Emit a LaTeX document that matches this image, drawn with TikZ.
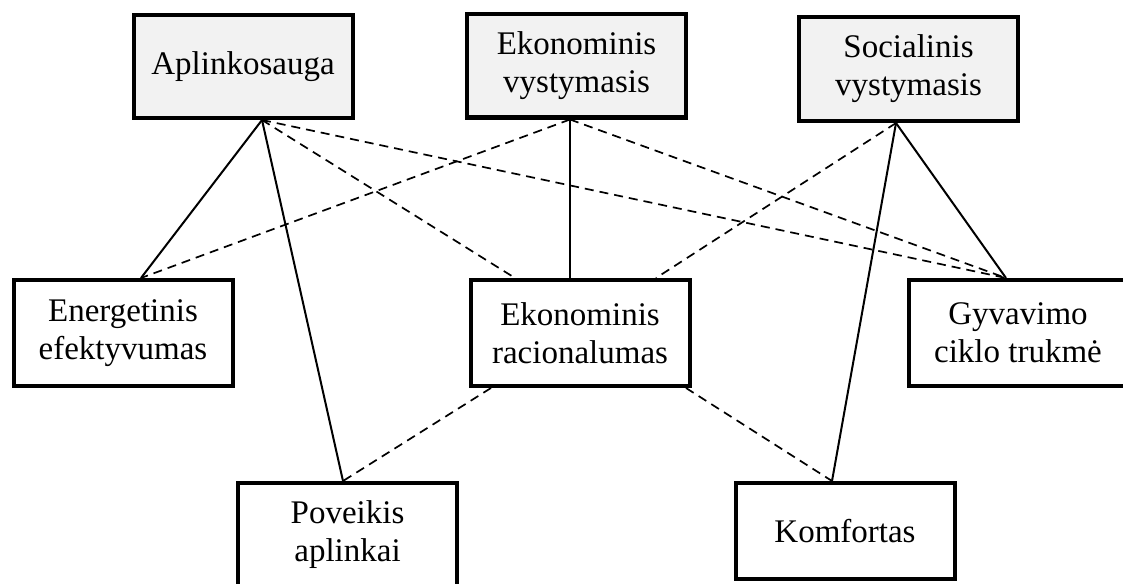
\documentclass[tikz,border=0pt]{standalone}
\usepackage{fontspec}
\setmainfont{Liberation Serif}
\usetikzlibrary{positioning}

\begin{document}
\begin{tikzpicture}[x=0.5pt, y=-0.5pt,
  critbox/.style={draw, line width=2pt, minimum width=109.5pt, minimum height=52pt,
                  align=center, font=\fontsize{16.5}{19}\selectfont},
  goalbox/.style={critbox, fill=black!5},
  link/.style={line width=1pt},
  dlink/.style={line width=0.85pt, dash pattern=on 4.5pt off 3pt}]
  \useasboundingbox (0,0) rectangle (1123,583);
  \clip (0,0) rectangle (1123,583);

  % tikslai
  \node[goalbox, minimum height=51.5pt] (aplink)  at (243,66.5)  {Aplinkosauga};
  \node[goalbox, minimum height=51.5pt] (ekvyst)  at (576.5,66)  {Ekonominis\\vystymasis};
  \node[goalbox, minimum height=52pt]   (socvyst) at (908.5,69)  {Socialinis\\vystymasis};
  % kriterijai
  \node[critbox, minimum height=53pt] (energ)  at (123,333)   {Energetinis\\efektyvumas};
  \node[critbox, minimum height=53pt] (ekrac)  at (580,333)   {Ekonominis\\racionalumas};
  \node[critbox, minimum height=53pt] (gyvav)  at (1018,333)  {Gyvavimo\\ciklo trukmė};
  \node[critbox]                      (poveik) at (347.5,535) {Poveikis\\aplinkai};
  \node[critbox, minimum height=48pt] (komf)   at (845,531)   {Komfortas};

  \draw[link] ([xshift=9.5pt]aplink.south) -- ([xshift=9pt]energ.north);
  \draw[link] ([xshift=9.5pt]aplink.south) -- ([xshift=-2.25pt]poveik.north);
  \draw[link] ([xshift=-3.25pt]ekvyst.south) -- ([xshift=-5pt]ekrac.north);
  \draw[link] ([xshift=-6.25pt]socvyst.south) -- ([xshift=-6pt]gyvav.north);
  \draw[link] ([xshift=-6.25pt]socvyst.south) -- ([xshift=-6.5pt]komf.north);

  \draw[dlink] ([xshift=9.5pt]aplink.south) -- ([xshift=-32.5pt]ekrac.north);
  \draw[dlink] ([xshift=9.5pt]aplink.south) -- ([xshift=-6pt]gyvav.north);
  \draw[dlink] ([xshift=-3.25pt]ekvyst.south) -- ([xshift=9pt]energ.north);
  \draw[dlink] ([xshift=-3.25pt]ekvyst.south) -- ([xshift=-6pt]gyvav.north);
  \draw[dlink] ([xshift=-6.25pt]socvyst.south) -- ([xshift=38pt]ekrac.north);
  \draw[dlink] ([xshift=-44.5pt]ekrac.south) -- ([xshift=-2.25pt]poveik.north);
  \draw[dlink] ([xshift=53pt]ekrac.south) -- ([xshift=-6.5pt]komf.north);
\end{tikzpicture}
\end{document}
